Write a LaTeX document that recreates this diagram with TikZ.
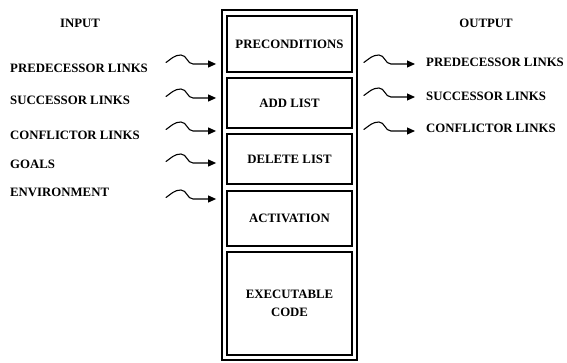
\documentclass[tikz,border=0pt]{standalone}
\usepackage{fontspec}
\setmainfont{Liberation Serif}
\usetikzlibrary{arrows.meta}
\tikzset{
	part/.style={draw,line width=1.6pt,minimum width=125pt,inner sep=0pt,align=center,font=\fontsize{12.8}{16}\bfseries},
	lbl/.style={anchor=west,inner sep=0pt,font=\fontsize{12.8}{16}\bfseries},
	wave/.style={line width=1.1pt,-{Triangle[length=8pt,width=7pt]}}
}
\begin{document}
\begin{tikzpicture}[x=1pt,y=1pt,line cap=round]
	\useasboundingbox (0,0) rectangle (567,-363);
	% behaviour module
	\node[draw,line width=1.8pt,minimum width=135pt,minimum height=350pt] (frame) at (289.5,-185) {};
	\node[part,minimum height=56pt] (pre) at (289.5,-44) {PRECONDITIONS};
	\node[part,minimum height=50pt] (add) at (289.5,-103) {ADD LIST};
	\node[part,minimum height=50pt] (del) at (289.5,-159) {DELETE LIST};
	\node[part,minimum height=55pt] (act) at (289.5,-218.5) {ACTIVATION};
	\node[part,minimum height=103pt] (exe) at (289.5,-303.5) {EXECUTABLE\\[2pt]CODE};
	% inputs
	\node[font=\fontsize{12.8}{16}\bfseries] (input) at (80,-23) {INPUT};
	\node[lbl] (inpred) at (10,-68) {PREDECESSOR LINKS};
	\node[lbl] (insucc) at (10,-100) {SUCCESSOR LINKS};
	\node[lbl] (inconf) at (10,-135) {CONFLICTOR LINKS};
	\node[lbl] (ingoal) at (10,-164) {GOALS};
	\node[lbl] (inenv) at (10,-192) {ENVIRONMENT};
	\foreach \t in {64,98,131,163,199}
		\draw[wave,shorten >=5pt] (166,-\t+1.5) to[out=35,in=180] ++(15,7.5) to[out=0,in=180] ++(12,-9) -- (frame.west |- 0,-\t);
	% outputs
	\node[font=\fontsize{12.8}{16}\bfseries] (output) at (486,-23) {OUTPUT};
	\node[lbl] (outpred) at (426,-62) {PREDECESSOR LINKS};
	\node[lbl] (outsucc) at (426,-96) {SUCCESSOR LINKS};
	\node[lbl] (outconf) at (426,-128) {CONFLICTOR LINKS};
	\foreach \t/\l in {64/outpred,97/outsucc,131/outconf}
		\draw[wave,shorten >=11pt] ([xshift=6pt]frame.east |- 0,-\t+1.5) to[out=35,in=180] ++(15,7.5) to[out=0,in=180] ++(12,-9) -- (\l.west |- 0,-\t);
\end{tikzpicture}
\end{document}
